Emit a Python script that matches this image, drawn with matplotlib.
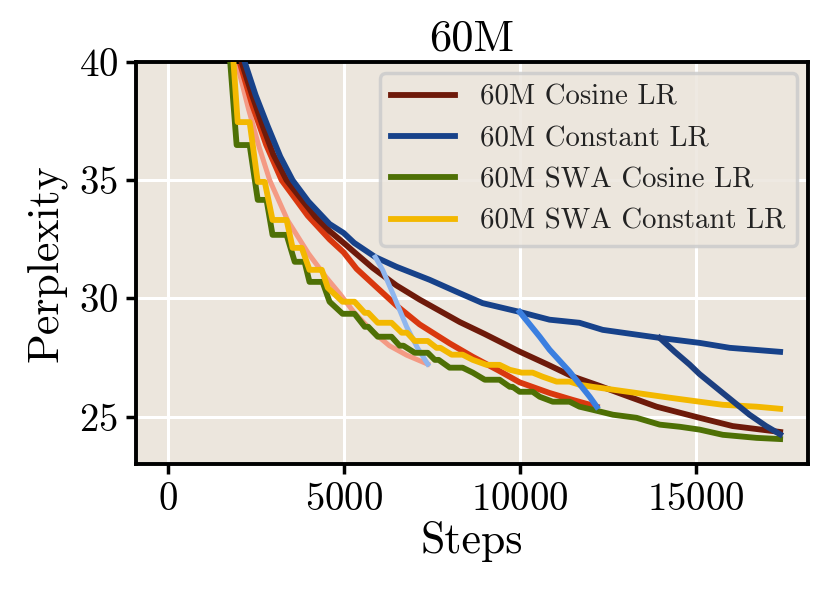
import matplotlib
matplotlib.use("Agg")
import matplotlib.pyplot as plt

plt.rcParams['font.family'] = ['cmr10', 'DejaVu Serif']
plt.rcParams['mathtext.fontset'] = 'cm'
plt.rcParams['axes.formatter.use_mathtext'] = True
plt.rcParams['axes.unicode_minus'] = False

# main runs
cos_x = [1850, 2100, 2400, 2700, 3000, 3380, 3800, 4200, 4600, 5000, 5310, 5820, 6500, 7160, 8300, 9000,
         10000, 10800, 11500, 12270, 13000, 13890, 15110, 16050, 17400]
cos_y = [41.3, 40.0, 38.6, 37.3, 36.1, 35.0, 34.2, 33.45, 32.85, 32.35, 31.95, 31.3, 30.55, 29.95, 29.0, 28.5,
         27.75, 27.2, 26.7, 26.3, 25.9, 25.42, 24.95, 24.6, 24.35]

const_x = [1950, 2190, 2500, 2840, 3200, 3550, 4000, 4600, 5000, 5300, 5900, 6500, 7440, 8210, 8950,
           10000, 10850, 11700, 12360, 13980, 15110, 15970, 17400]
const_y = [41.3, 40.0, 38.6, 37.3, 36.0, 35.0, 34.1, 33.15, 32.77, 32.35, 31.75, 31.34, 30.79, 30.28, 29.8,
           29.43, 29.1, 28.97, 28.67, 28.33, 28.12, 27.91, 27.74]

swa_cos_x = [1700, 1960, 2330, 2560, 2810, 2980, 3380, 3610, 3890, 4030, 4400, 4600, 4970,
             5310, 5600, 5700, 5970, 6360, 6590, 6700, 7020, 7390, 7590, 7700, 8010, 8380,
             8670, 9010, 9430, 9720, 9800, 10000, 10370, 10570, 10940, 11420, 11700, 12070,
             12650, 13320, 13980, 14550, 15110, 15770, 16730, 17400]
swa_cos_y = [41.5, 36.49, 36.49, 34.17, 34.17, 32.69, 32.69, 31.55, 31.55, 30.7, 30.7, 29.86, 29.35,
             29.35, 28.8, 28.8, 28.38, 28.38, 28.0, 28.0, 27.7, 27.7, 27.4, 27.4, 27.07, 27.07,
             26.86, 26.56, 26.56, 26.26, 26.26, 26.05, 26.05, 25.84, 25.63, 25.63, 25.42, 25.29,
             25.08, 24.95, 24.66, 24.57, 24.45, 24.23, 24.1, 24.05]

swa_const_x = [1800, 1990, 2330, 2560, 2760, 2980, 3380, 3550, 3810, 4030, 4380, 4550, 4970,
               5310, 5600, 5700, 5970, 6360, 6650, 6800, 7020, 7390, 7640, 7750, 8070, 8380,
               8670, 9060, 9430, 9720, 10060, 10370, 10650, 11050, 11420, 11700, 12070,
               12360, 13320, 14260, 15110, 15770, 16730, 17400]
swa_const_y = [41.5, 37.46, 37.46, 34.93, 34.93, 33.32, 33.32, 32.14, 32.14, 31.21, 31.21, 30.45, 29.86,
               29.86, 29.39, 29.39, 28.97, 28.97, 28.55, 28.55, 28.2, 28.2, 27.91, 27.91, 27.62, 27.62,
               27.4, 27.19, 27.19, 26.98, 26.86, 26.86, 26.69, 26.48, 26.48, 26.35, 26.26,
               26.2, 26.0, 25.8, 25.63, 25.5, 25.42, 25.33]

# shorter cosine schedules
cos7k_x = [1750, 1960, 2300, 2600, 2900, 3410, 4000, 4500, 4890, 5300, 5820, 6300, 6790, 7390]
cos7k_y = [41.3, 40.0, 38.0, 36.4, 35.0, 33.3, 31.9, 30.9, 30.2, 29.4, 28.6, 28.0, 27.6, 27.22]

cos12k_x = [1800, 2045, 2400, 2800, 3240, 3980, 4600, 5000, 5370, 6500, 7160, 8010, 8670, 9400,
            10000, 10850, 11500, 12190]
cos12k_y = [41.3, 40.0, 38.2, 36.5, 35.0, 33.5, 32.5, 31.95, 31.25, 29.7, 28.9, 28.1, 27.53, 26.95,
            26.45, 26.0, 25.71, 25.42]

# cooldowns from the constant run
cool1_x = [5900, 6110, 6400, 6790, 7100, 7390]
cool1_y = [31.75, 31.2, 30.2, 28.8, 27.9, 27.22]
cool2_x = [10000, 10570, 10850, 11420, 11990, 12190]
cool2_y = [29.43, 28.38, 27.83, 26.9, 25.84, 25.42]
cool3_x = [13980, 14400, 14830, 15110, 15770, 16530, 17000, 17400]
cool3_y = [28.33, 27.75, 27.2, 26.8, 26.0, 25.08, 24.6, 24.25]

fig = plt.figure(figsize=(8.29, 5.97), dpi=100)
ax = fig.add_axes([0.164, 0.223, 0.811, 0.673])
ax.set_facecolor('#ece6dd')

lw = 4.2
ax.plot(cos_x, cos_y, color='#6e1a0a', lw=lw, label='60M Cosine LR', zorder=3)
ax.plot(const_x, const_y, color='#17428a', lw=lw, label='60M Constant LR', zorder=3)
ax.plot(swa_cos_x, swa_cos_y, color='#4e7005', lw=lw, label='60M SWA Cosine LR', zorder=5)
ax.plot(swa_const_x, swa_const_y, color='#f3b800', lw=lw, label='60M SWA Constant LR', zorder=5)
ax.plot(cos7k_x, cos7k_y, color='#f49a84', lw=3.6, zorder=2)
ax.plot(cos12k_x, cos12k_y, color='#d9380f', lw=lw, zorder=2)
ax.plot(cool1_x, cool1_y, color='#8fb6ee', lw=3.6, zorder=4)
ax.plot(cool2_x, cool2_y, color='#3b7fe0', lw=lw, zorder=6)
ax.plot(cool3_x, cool3_y, color='#1c3f80', lw=lw, zorder=6)

ax.set_xlim(-900, 18200)
ax.set_ylim(23, 40)
ax.set_xticks([0, 5000, 10000, 15000])
ax.set_yticks([25, 30, 35, 40])
ax.grid(True, color='white', lw=2.2)
ax.set_axisbelow(True)

for s in ax.spines.values():
    s.set_linewidth(2.8)
    s.set_color('black')
ax.tick_params(axis='both', labelsize=28, length=7, width=2.5, pad=6)

ax.set_xlabel('Steps', fontsize=31.5, labelpad=2)
ax.set_ylabel('Perplexity', fontsize=31.5, labelpad=9)
ax.set_title('60M', fontsize=32, pad=8)

leg = ax.legend(loc='upper right', fontsize=20.7, handlelength=2.2, handletextpad=0.9,
                borderaxespad=0.38, labelspacing=0.52, fancybox=True, framealpha=0.85,
                facecolor='#ece6dd', edgecolor='#cccccc')
leg.get_frame().set_linewidth(2.5)
for t in leg.get_texts():
    t.set_color('#222222')

fig.savefig('out.png', dpi=100)
